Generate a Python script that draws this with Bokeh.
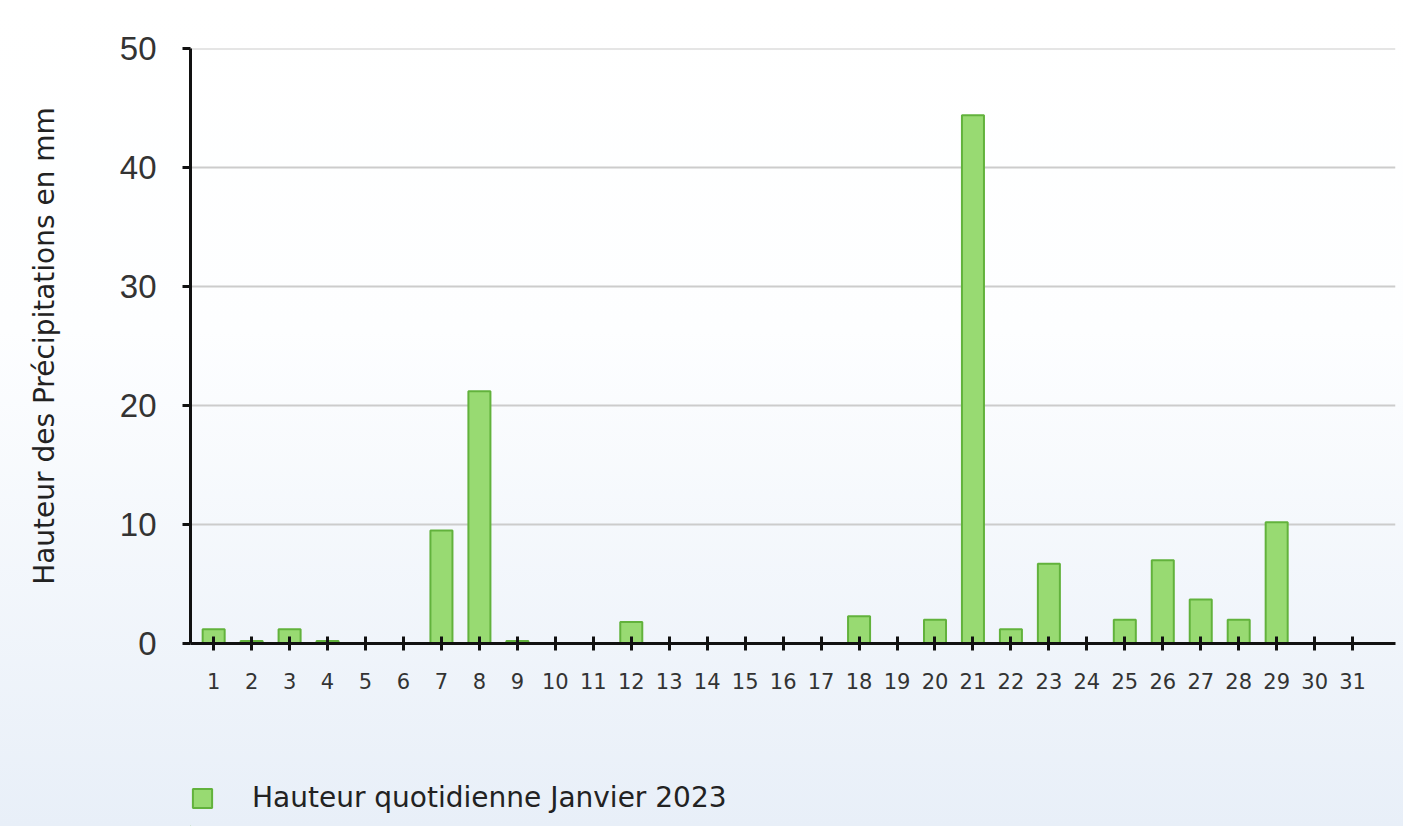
from bokeh.plotting import figure
from bokeh.layouts import column
from bokeh.models import ColumnDataSource, FixedTicker, Legend, LegendItem, Range1d
from bokeh.embed import file_html
from bokeh.resources import INLINE

days = list(range(1, 32))
day_labels = [str(d) for d in days]
rain_mm = [1.2, 0.2, 1.2, 0.2, 0.0, 0.0, 9.5, 21.2, 0.2, 0.0, 0.0, 1.8, 0.0, 0.0, 0.0, 0.0,
           0.0, 2.3, 0.0, 2.0, 44.4, 1.2, 6.7, 0.0, 2.0, 7.0, 3.7, 2.0, 10.2, 0.0, 0.0]
y_ticks = [0, 10, 20, 30, 40, 50]
series_name = "Hauteur quotidienne Janvier 2023"
y_title = "Hauteur des Précipitations en mm"

BAR_FILL = "#98da72"
BAR_LINE = "#62b23c"

src = ColumnDataSource(dict(day=days, rain=rain_mm))

p = figure(frame_width=1205, frame_height=595, output_backend="svg", toolbar_location=None,
           x_range=Range1d(0.39, 32.13), y_range=Range1d(0, 50.02),
           min_border_left=190, min_border_top=48, min_border_bottom=97, min_border_right=8)
p.border_fill_alpha = 0
p.background_fill_alpha = 0
p.outline_line_color = None

r = p.vbar(x="day", top="rain", width=0.58, source=src,
           fill_color=BAR_FILL, line_color=BAR_LINE, line_width=2)

p.xaxis.ticker = FixedTicker(ticks=days)
p.xaxis.major_label_overrides = {d: l for d, l in zip(days, day_labels)}
p.xaxis.major_label_text_font = "DejaVu Sans"
p.xaxis.major_label_text_font_size = "21px"
p.xaxis.major_label_text_color = "#333333"
p.xaxis.axis_line_color = "#111111"
p.xaxis.axis_line_width = 3
p.xaxis.major_tick_line_color = "#111111"
p.xaxis.major_tick_line_width = 3
p.xaxis.major_tick_in = 7
p.xaxis.major_tick_out = 7
p.xaxis.minor_tick_line_color = None
p.xaxis.major_label_standoff = 22

p.yaxis.ticker = FixedTicker(ticks=y_ticks)
p.yaxis.major_label_text_font = "Liberation Sans"
p.yaxis.major_label_text_font_size = "33px"
p.yaxis.major_label_text_color = "#333333"
p.yaxis.axis_line_color = "#111111"
p.yaxis.axis_line_width = 3
p.yaxis.major_tick_line_color = "#111111"
p.yaxis.major_tick_line_width = 3
p.yaxis.major_tick_in = 0
p.yaxis.major_tick_out = 8
p.yaxis.minor_tick_line_color = None
p.yaxis.major_label_standoff = 26
p.yaxis.axis_label = y_title
p.yaxis.axis_label_text_font = "DejaVu Sans"
p.yaxis.axis_label_text_font_size = "28px"
p.yaxis.axis_label_text_font_style = "normal"
p.yaxis.axis_label_text_color = "#222222"
p.yaxis.axis_label_standoff = 56

p.xgrid.grid_line_color = None
p.ygrid.grid_line_color = "#cccccc"
p.ygrid.grid_line_width = 2

# legend strip under the chart (its frame is aligned with the chart's frame)
lg = figure(width=1403, height=86, output_backend="svg", toolbar_location=None,
            x_range=Range1d(100, 101), y_range=Range1d(100, 101),
            x_axis_type=None, y_axis_type=None,
            min_border_left=0, min_border_right=0, min_border_top=0, min_border_bottom=0)
lg.border_fill_alpha = 0
lg.background_fill_alpha = 0
lg.outline_line_color = None
proxy = lg.vbar(x=days[:1], top=rain_mm[:1], width=0.5,
                fill_color=BAR_FILL, line_color=BAR_LINE, line_width=2)

legend = Legend(items=[LegendItem(label=series_name, renderers=[proxy])],
                location=(0, 12), orientation="horizontal",
                padding=0, margin=0, spacing=0,
                glyph_width=24, glyph_height=24, label_standoff=38,
                label_text_font="DejaVu Sans", label_text_font_size="28px",
                label_text_color="#222222",
                border_line_color=None, background_fill_alpha=0)
lg.add_layout(legend)

page = column(p, lg, spacing=0)
page.styles = {"background": "linear-gradient(to bottom, #ffffff 0%, #fdfeff 40%, #e8eff8 100%)"}

open("out.html", "w").write(file_html(page, INLINE))
